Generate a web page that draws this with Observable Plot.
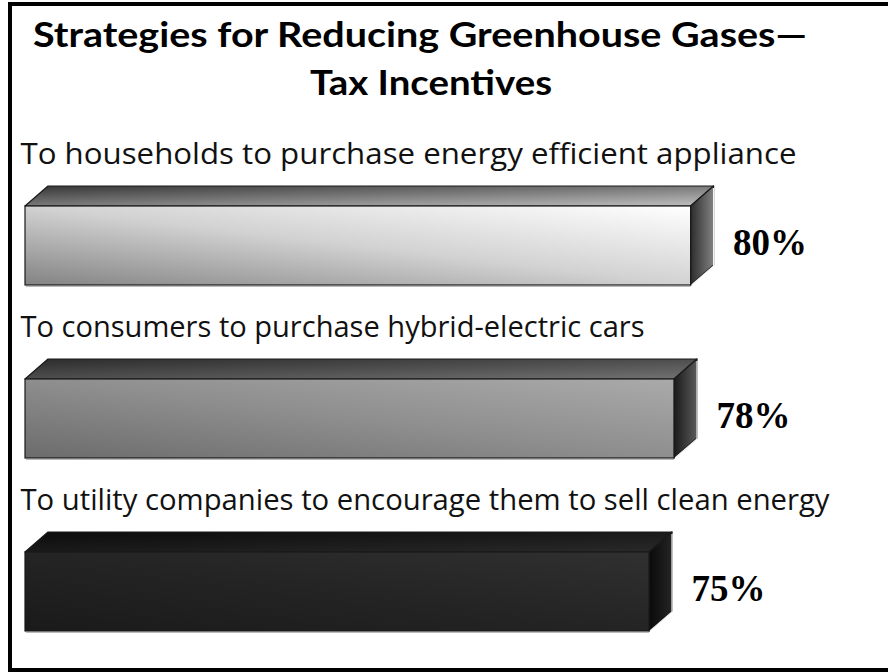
<!DOCTYPE html>
<html><head><meta charset="utf-8">
<script src="https://cdn.jsdelivr.net/npm/d3@7"></script>
<script src="https://cdn.jsdelivr.net/npm/@observablehq/plot@0.6"></script>
<style>
body{margin:0;background:#fff;}
#wrap{position:relative;width:888px;height:672px;overflow:hidden;background:#fff;}
#frame{position:absolute;left:8px;top:2px;width:900px;height:670px;border:4px solid #000;box-sizing:border-box;}
.t{position:absolute;font-family:Lato,sans-serif;font-weight:700;font-size:35px;line-height:35px;white-space:nowrap;color:#000;transform-origin:0 0;}
#chart{position:absolute;left:0;top:110px;}
</style></head><body>
<div id="wrap">
<div id="frame"></div>
<div class="t" id="t1" style="left:33px;top:16px" data-w="774">Strategies for Reducing Greenhouse Gases—</div>
<div class="t" id="t2" style="left:310px;top:64px" data-w="242">Tax Incentives</div>
<div id="chart"></div>
</div>
<script>
// ---- data ----
const categories = [
  "To households to purchase energy efficient appliance",
  "To consumers to purchase hybrid-electric cars",
  "To utility companies to encourage them to sell clean energy"
];
const values = [80, 78, 75];
const valueLabels = ["80%", "78%", "75%"];

// ---- styles ----
const palette = [
  {front: ["#838383", "#d2d2d2", "#ffffff"], top: ["#363636", "#7a7a7a", "#c0c0c0"], side: ["#2c2c2c", "#828282"]},
  {front: ["#6c6c6c", "#8e8e8e", "#aaaaaa"], top: ["#2c2c2c", "#4e4e4e", "#727272"], side: ["#1a1a1a", "#5a5a5a"]},
  {front: ["#1a1a1a", "#242424", "#303030"], top: ["#0c0c0c", "#1a1a1a", "#2a2a2a"], side: ["#0a0a0a", "#242424"]}
];
const labelTextLength = [776, 624, 809]; // rendered width of each label line in the reference font
const DX = 23, DY = 20, FRONT_H = 79;

// fit title lines to their width in the reference
for (const el of document.querySelectorAll(".t")) {
  const w = el.getBoundingClientRect().width;
  el.style.transform = `scaleX(${(+el.dataset.w) / w})`;
}

const rows = categories.map((c, i) => ({label: c, value: values[i], text: valueLabels[i], idx: i}));

function bar3d(index, scales, vals, dims, ctx) {
  const g = d3.create("svg:g");
  const defs = g.append("defs");
  const xs = scales.x, ys = scales.y;
  const bw = ys.bandwidth();
  for (const i of index) {
    const d = rows[i];
    const p = palette[d.idx];
    const x0 = xs(0), x1 = xs(d.value);
    const yc = ys(d.label) + bw / 2;
    const top = yc - FRONT_H / 2, bot = yc + FRONT_H / 2;
    const gid = "g" + i;
    const gf = defs.append("linearGradient").attr("id", gid + "f").attr("x1", 0).attr("y1", 1).attr("x2", 1).attr("y2", 0);
    p.front.forEach((c, k) => gf.append("stop").attr("offset", k / (p.front.length - 1)).attr("stop-color", c));
    const gt = defs.append("linearGradient").attr("id", gid + "t").attr("x1", 0).attr("y1", 0).attr("x2", 1).attr("y2", 1);
    p.top.forEach((c, k) => gt.append("stop").attr("offset", k / (p.top.length - 1)).attr("stop-color", c));
    const gs = defs.append("linearGradient").attr("id", gid + "s").attr("x1", 0).attr("y1", 0).attr("x2", 1).attr("y2", 0);
    p.side.forEach((c, k) => gs.append("stop").attr("offset", k / (p.side.length - 1)).attr("stop-color", c));

    const poly = pts => "M" + pts.map(q => q.join(",")).join("L") + "Z";
    g.append("path").attr("d", poly([[x0, top], [x0 + DX, top - DY], [x1 + DX, top - DY], [x1, top]]))
      .attr("fill", `url(#${gid}t)`).attr("stroke", "#1a1a1a").attr("stroke-width", 1.2).attr("stroke-linejoin", "round");
    g.append("path").attr("d", poly([[x1, top], [x1 + DX, top - DY], [x1 + DX, bot - DY], [x1, bot]]))
      .attr("fill", `url(#${gid}s)`).attr("stroke", "#1a1a1a").attr("stroke-width", 1.2).attr("stroke-linejoin", "round");
    g.append("path").attr("d", `M${x1 + 1},${bot}L${x1 + DX},${bot - DY + 1}L${x1 + DX},${top - DY + 2}`)
      .attr("fill", "none").attr("stroke", "#f4f4f4").attr("stroke-width", 1.2);
    g.append("rect").attr("x", x0).attr("y", top).attr("width", x1 - x0).attr("height", FRONT_H)
      .attr("fill", `url(#${gid}f)`).attr("stroke", "#1a1a1a").attr("stroke-width", 1.2);
    g.append("line").attr("x1", x0 + 1).attr("x2", x1).attr("y1", bot + 1).attr("y2", bot + 1)
      .attr("stroke", "#777").attr("stroke-width", 1);
  }
  return g.node();
}

const chart = Plot.plot({
  width: 888,
  height: 562,
  margin: 0,
  x: {domain: [0, 100], range: [25, 857], axis: null},
  y: {domain: categories, range: [47.75, 568.25], padding: 0, axis: null},
  marks: [
    Plot.barX(rows, {x: "value", y: "label", render: bar3d}),
    Plot.text(rows, {
      x: () => 0, y: "label", text: "label", textAnchor: "start", lineAnchor: "middle",
      dx: -5, dy: -91, fontSize: 29, fontFamily: "Open Sans", fill: "#111"
    }),
    Plot.text(rows, {
      x: "value", y: "label", text: "text", textAnchor: "start", lineAnchor: "middle",
      dx: DX + 19, dy: -3, fontSize: 37, fontFamily: "Liberation Serif", fontWeight: "bold", fill: "#000"
    })
  ]
});
// stretch each label to its reference width
d3.select(chart).selectAll("text").each(function () {
  const k = categories.indexOf(this.textContent);
  if (k >= 0) d3.select(this).attr("textLength", labelTextLength[k]).attr("lengthAdjust", "spacingAndGlyphs");
});
document.getElementById("chart").appendChild(chart);
</script>
</body></html>
